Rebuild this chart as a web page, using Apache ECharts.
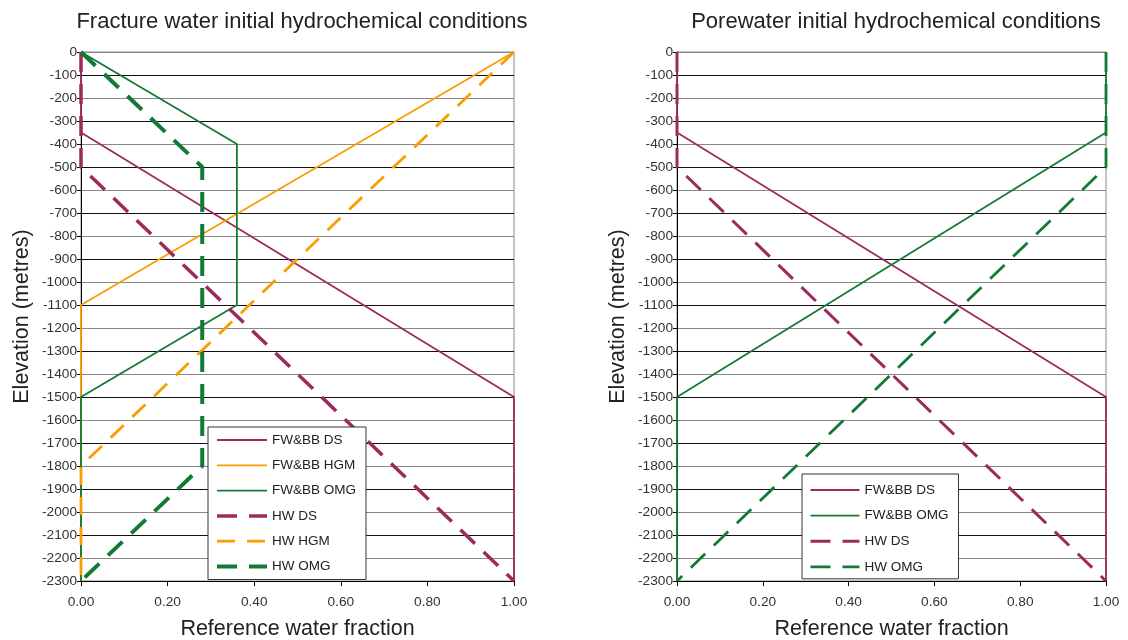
<!DOCTYPE html>
<html><head><meta charset="utf-8">
<script src="https://cdn.jsdelivr.net/npm/echarts@6/dist/echarts.min.js"></script>
<style>html,body{margin:0;padding:0;background:#fff}#c{width:1128px;height:640px}</style>
</head><body><div id="c"></div>
<script>
// Fracture water (left chart): [reference water fraction, elevation]
const fwbbDS  = [[0, 0], [0, -350], [1, -1500], [1, -2300]];
const fwbbHGM = [[1, 0], [0, -1100], [0, -2300]];
const fwbbOMG = [[0, 0], [0.36, -400], [0.36, -1100], [0, -1500], [0, -2300]];
const hwDS    = [[0, 0], [0, -500], [1, -2300]];
const hwHGM   = [[1, 0], [0, -1800], [0, -2300]];
const hwOMG   = [[0, 0], [0.28, -500], [0.28, -1800], [0, -2300]];
// Porewater (right chart)
const pwFwbbDS  = [[0, 0], [0, -350], [1, -1500], [1, -2300]];
const pwFwbbOMG = [[1, 0], [1, -350], [0, -1500], [0, -2300]];
const pwHwDS    = [[0, 0], [0, -500], [1, -2300]];
const pwHwOMG   = [[1, 0], [1, -500], [0, -2300]];

const leftNames  = ['FW&BB DS', 'FW&BB HGM', 'FW&BB OMG', 'HW DS', 'HW HGM', 'HW OMG'];
const rightNames = ['pw FW&BB DS', 'pw FW&BB OMG', 'pw HW DS', 'pw HW OMG'];
const titles = ['Fracture water initial hydrochemical conditions', 'Porewater initial hydrochemical conditions'];

const PURPLE = '#9c2a5c', ORANGE = '#f99d00', GREEN = '#137a36';
const FONT = '"Liberation Sans", Arial, sans-serif';

// line styles per series name
const styles = {
  'FW&BB DS':  { color: PURPLE, width: 1.8, type: 'solid' },
  'FW&BB HGM': { color: ORANGE, width: 1.8, type: 'solid' },
  'FW&BB OMG': { color: GREEN,  width: 1.8, type: 'solid' },
  'HW DS':     { color: PURPLE, width: 3.5, type: [20, 12] },
  'HW HGM':    { color: ORANGE, width: 2.8, type: [18, 12] },
  'HW OMG':    { color: GREEN,  width: 4,   type: [20, 12] },
  'pw FW&BB DS':  { color: PURPLE, width: 1.8, type: 'solid' },
  'pw FW&BB OMG': { color: GREEN,  width: 1.8, type: 'solid' },
  'pw HW DS':     { color: PURPLE, width: 3,   type: [20, 12] },
  'pw HW OMG':    { color: GREEN,  width: 2.8, type: [20, 12] }
};

function xAxis(i) {
  return {
    gridIndex: i, type: 'value', min: 0, max: 1, interval: 0.2,
    name: 'Reference water fraction', nameLocation: 'middle', nameGap: 37,
    nameTextStyle: { fontSize: 21.5, color: '#222', fontFamily: FONT },
    axisLine: { show: true, onZero: false, lineStyle: { color: '#000', width: 1 } },
    axisTick: { show: true, inside: false, length: 5, lineStyle: { color: '#000' } },
    axisLabel: { margin: 14, fontSize: 13.7, color: '#333', fontFamily: FONT, formatter: v => v.toFixed(2) },
    splitLine: { show: false }
  };
}
function yAxis(i) {
  return {
    gridIndex: i, type: 'value', min: -2300, max: 0, interval: 100,
    name: 'Elevation (metres)', nameLocation: 'middle', nameGap: 48, nameRotate: 90,
    nameTextStyle: { fontSize: 21.5, color: '#222', fontFamily: FONT },
    axisLine: { show: true, onZero: false, lineStyle: { color: '#000', width: 1 } },
    axisTick: { show: true, inside: false, length: 4, lineStyle: { color: '#000' } },
    axisLabel: { margin: 4, fontSize: 13.7, color: '#333', fontFamily: FONT, formatter: v => String(v) },
    splitLine: { show: true, lineStyle: { color: ['#111', '#888'], width: 1 } }
  };
}
function line(name, data, xi) {
  const s = styles[name];
  return {
    name, type: 'line', data, xAxisIndex: xi, yAxisIndex: xi, symbol: 'none',
    clip: false, animation: false,
    lineStyle: { color: s.color, width: s.width, type: s.type },
    itemStyle: { color: s.color }
  };
}
function legendData(names) {
  return names.map(n => ({
    name: n,
    itemStyle: { color: 'rgba(0,0,0,0)', borderWidth: 0, opacity: 0 },
    lineStyle: { color: styles[n].color, width: styles[n].width, type: styles[n].type }
  }));
}

const chart = echarts.init(document.getElementById('c'), null, { renderer: 'canvas' });
chart.setOption({
  backgroundColor: '#fff',
  animation: false,
  title: [
    { text: titles[0], left: 297, top: 6, textAlign: 'center', textStyle: { fontSize: 22, fontWeight: 'normal', color: '#222', fontFamily: FONT } },
    { text: titles[1], left: 891, top: 6, textAlign: 'center', textStyle: { fontSize: 22, fontWeight: 'normal', color: '#222', fontFamily: FONT } }
  ],
  grid: [
    { left: 81, top: 52, width: 433, height: 529, show: true, borderColor: '#888', borderWidth: 1, backgroundColor: 'transparent', outerBoundsMode: 'none', containLabel: false },
    { left: 677, top: 52, width: 429, height: 529, show: true, borderColor: '#888', borderWidth: 1, backgroundColor: 'transparent', outerBoundsMode: 'none', containLabel: false }
  ],
  xAxis: [xAxis(0), xAxis(1)],
  yAxis: [yAxis(0), yAxis(1)],
  legend: [
    {
      data: legendData(leftNames), orient: 'vertical', left: 208, top: 427, itemWidth: 50, itemHeight: 14, itemGap: 11.3,
      padding: [6, 10, 6, 7], borderColor: '#333', borderWidth: 1, backgroundColor: '#fff',
      textStyle: { fontSize: 13.5, color: '#222', fontFamily: FONT }, selectedMode: false
    },
    {
      data: legendData(rightNames), orient: 'vertical', left: 802, top: 474, itemWidth: 49, itemHeight: 14, itemGap: 11.6,
      padding: [9, 10, 5, 7], borderColor: '#333', borderWidth: 1, backgroundColor: '#fff',
      formatter: n => n.replace('pw ', ''),
      textStyle: { fontSize: 13.5, color: '#222', fontFamily: FONT }, selectedMode: false
    }
  ],
  series: [
    line('FW&BB DS', fwbbDS, 0),
    line('FW&BB HGM', fwbbHGM, 0),
    line('FW&BB OMG', fwbbOMG, 0),
    line('HW DS', hwDS, 0),
    line('HW HGM', hwHGM, 0),
    line('HW OMG', hwOMG, 0),
    line('pw FW&BB DS', pwFwbbDS, 1),
    line('pw FW&BB OMG', pwFwbbOMG, 1),
    line('pw HW DS', pwHwDS, 1),
    line('pw HW OMG', pwHwOMG, 1)
  ]
});
</script></body></html>
